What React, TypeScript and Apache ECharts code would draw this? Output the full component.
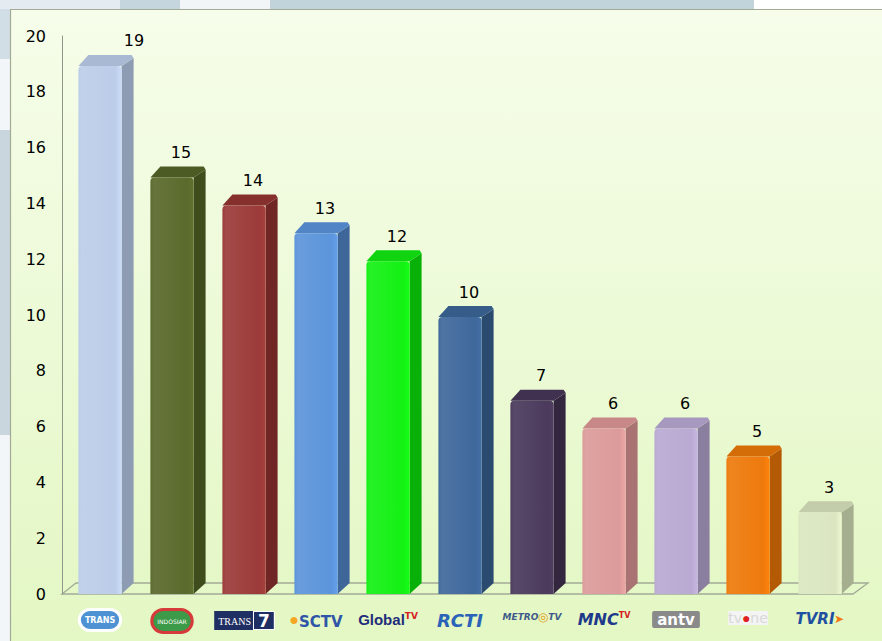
import React, { useEffect, useRef } from "react";
import * as echarts from "echarts";

const categories = ["Trans TV", "Indosiar", "Trans 7", "SCTV", "Global TV", "RCTI", "Metro TV", "MNCTV", "antv", "tvOne", "TVRI"];
const values = [19, 15, 14, 13, 12, 10, 7, 6, 6, 5, 3];
const frontColors = ["#bccde9", "#5a6a2c", "#9c3b39", "#5c95db", "#14f014", "#3f689b", "#4b3a5c", "#dc9b9a", "#b9aad3", "#ee7a0c", "#dbe6c1"];
const sideColors = ["#8e9cb3", "#3f4d1c", "#6f2624", "#3f6699", "#08b008", "#2b4a70", "#33263f", "#a87372", "#8b7fa0", "#b45a05", "#a6ae90"];
const topColors = ["#a9b9d3", "#4c5b24", "#86302e", "#5185c6", "#10d410", "#365c8a", "#403150", "#c78887", "#a698bf", "#d46c08", "#c4cdab"];
const yTicks = [0, 2, 4, 6, 8, 10, 12, 14, 16, 18, 20];

const logoLabels: Record<string, string> = {
  "Trans TV": "{transtv|TRANS}",
  "Indosiar": "{indosiar|INDOSIAR}",
  "Trans 7": "{t7a|TRANS}{t7b|7}",
  "SCTV": "{sun|●}{sctv|SCTV}",
  "Global TV": "{glob|Global}{globtv|TV}",
  "RCTI": "{rcti|RCTI}",
  "Metro TV": "{metro|METRO}{metroo|◎}{metro|TV}",
  "MNCTV": "{mnc|MNC}{mnctv|TV}",
  "antv": "{antv|antv}",
  "tvOne": "{tv1|tv}{tv1o|●}{tv1|ne}",
  "TVRI": "{tvri|TVRI}{tvria|➤}",
};

export default function App() {
  const ref = useRef<HTMLDivElement>(null);
  useEffect(() => {
    if (!ref.current) return;
    const chart = echarts.init(ref.current, null, { renderer: "svg" });
    const dx = 12;
    const dy = 11;
    const option: any = {
      animation: false,
      backgroundColor: "#ffffff",
      graphic: [
        { type: "rect", shape: { x: 0, y: 0, width: 882, height: 9 }, style: { fill: "#e4ecf1" }, z: -10 },
        { type: "rect", shape: { x: 120, y: 0, width: 60, height: 9 }, style: { fill: "#c6d6de" }, z: -10 },
        { type: "rect", shape: { x: 180, y: 0, width: 90, height: 9 }, style: { fill: "#f1f5f7" }, z: -10 },
        { type: "rect", shape: { x: 270, y: 0, width: 484, height: 9 }, style: { fill: "#c2d4db" }, z: -10 },
        { type: "rect", shape: { x: 754, y: 0, width: 128, height: 9 }, style: { fill: "#ffffff" }, z: -10 },
        { type: "rect", shape: { x: 0, y: 9, width: 10, height: 632 }, style: { fill: "#f3f6f8" }, z: -10 },
        { type: "rect", shape: { x: 0, y: 9, width: 10, height: 50 }, style: { fill: "#d2dee6" }, z: -10 },
        { type: "rect", shape: { x: 0, y: 130, width: 10, height: 305 }, style: { fill: "#c9d6de" }, z: -10 },
        {
          type: "rect",
          shape: { x: 10.5, y: 9.5, width: 880, height: 640 },
          style: {
            fill: new echarts.graphic.LinearGradient(0, 0, 0, 1, [
              { offset: 0, color: "#f6fdea" },
              { offset: 1, color: "#e3f7c3" },
            ]),
            stroke: "#a3ab96",
            lineWidth: 1.2,
          },
          z: -9,
        },
        {
          type: "polygon",
          shape: { points: [[62, 594], [853, 594], [868, 583], [76, 583]] },
          style: { fill: "rgba(0,0,0,0)", stroke: "#a2aa98", lineWidth: 1.3 },
          z: -8,
        },
      ],
      grid: { left: 64, right: 26, top: 36, bottom: 47, containLabel: false },
      xAxis: {
        type: "category",
        data: categories,
        axisLine: { show: false },
        axisTick: { show: false },
        splitLine: { show: false },
        axisLabel: {
          margin: 17,
          interval: 0,
          formatter: (v: string) => logoLabels[v] || v,
          rich: {
            transtv: { color: "#ffffff", backgroundColor: "#4e92d3", fontSize: 8, fontWeight: "bold", fontFamily: "DejaVu Sans", padding: [5, 4], borderRadius: 9, borderColor: "#ffffff", borderWidth: 3 },
            indosiar: { color: "#ffffff", backgroundColor: "#3c9a48", fontSize: 6, fontFamily: "DejaVu Sans", padding: [7, 4], borderRadius: 12, borderColor: "#d63a3a", borderWidth: 3 },
            t7a: { color: "#ffffff", backgroundColor: "#1f2f63", fontSize: 10, fontFamily: "Liberation Serif", padding: [5, 3, 4, 4] },
            t7b: { color: "#ffffff", backgroundColor: "#1f2f63", fontSize: 17, fontWeight: "bold", fontFamily: "DejaVu Sans", padding: [0, 4, 0, 4], borderColor: "#ffffff", borderWidth: 1 },
            sun: { color: "#f5a623", fontSize: 16, padding: [0, 0, 6, 0] },
            sctv: { color: "#2f55a8", fontSize: 15, fontWeight: "bold", fontFamily: "DejaVu Sans" },
            glob: { color: "#1f2d7a", fontSize: 15, fontWeight: "bold", fontFamily: "Liberation Sans Narrow, Liberation Sans" },
            globtv: { color: "#d62020", fontSize: 9, fontWeight: "bold", fontFamily: "DejaVu Sans", padding: [0, 0, 8, 0] },
            rcti: { color: "#2b63b8", fontSize: 18, fontWeight: "bold", fontStyle: "italic", fontFamily: "DejaVu Sans" },
            metro: { color: "#3f5a8a", fontSize: 9, fontStyle: "italic", fontWeight: "bold", fontFamily: "DejaVu Sans" },
            metroo: { color: "#e0a020", fontSize: 12 },
            mnc: { color: "#1f3a8a", fontSize: 16, fontWeight: "bold", fontStyle: "italic", fontFamily: "DejaVu Sans" },
            mnctv: { color: "#d62020", fontSize: 8, fontWeight: "bold", fontFamily: "DejaVu Sans", padding: [0, 0, 8, 0] },
            antv: { color: "#ffffff", backgroundColor: "#8a8a8a", fontSize: 15, fontWeight: "bold", fontFamily: "DejaVu Sans", padding: [1, 5], borderRadius: 2 },
            tv1: { color: "#d8d8d8", fontSize: 14, fontFamily: "DejaVu Sans", backgroundColor: "#f4f4f4" },
            tv1o: { color: "#e02020", fontSize: 14, backgroundColor: "#f4f4f4" },
            tvri: { color: "#1f4fa0", fontSize: 15, fontWeight: "bold", fontStyle: "italic", fontFamily: "DejaVu Sans" },
            tvria: { color: "#f07a10", fontSize: 12 },
          },
        },
      },
      yAxis: {
        type: "value",
        min: 0,
        max: 20,
        interval: 2,
        offset: 2,
        axisLine: { show: true, lineStyle: { color: "#8f978a", width: 1 } },
        axisTick: { show: false },
        splitLine: { show: false },
        axisLabel: {
          margin: 16,
          color: "#000000",
          fontSize: 16,
          fontFamily: "DejaVu Sans",
          formatter: (v: number) => (yTicks.indexOf(v) >= 0 ? String(v) : ""),
        },
      },
      series: [
        {
          type: "custom",
          data: values.map((v, i) => [i, v]),
          encode: { x: 0, y: 1 },
          renderItem: (params: any, api: any) => {
            const idx = api.value(0);
            const v = api.value(1);
            const base = api.coord([idx, 0]);
            const top = api.coord([idx, v]);
            const bw = api.size([1, 0])[0] * 0.6;
            const x0 = base[0] - bw / 2;
            const x1 = x0 + bw;
            const yb = base[1];
            const yt = top[1] + 2;
            const fc = frontColors[idx];
            const sc = sideColors[idx];
            const tc = topColors[idx];
            const labelDx = idx === 0 ? 34 : 9;
            return {
              type: "group",
              children: [
                {
                  type: "polygon",
                  shape: { points: [[x1, yt], [x1 + dx, yt - dy + 3], [x1 + dx, yb - dy], [x1, yb]] },
                  style: { fill: sc },
                },
                {
                  type: "polygon",
                  shape: { points: [[x0, yt], [x0 + dx - 2, yt - dy], [x1 + dx - 2, yt - dy], [x1 + dx, yt - dy + 3], [x1, yt]] },
                  style: { fill: tc },
                },
                {
                  type: "rect",
                  shape: { x: x0, y: yt, width: bw, height: yb - yt, r: [4, 4, 0, 0] },
                  style: {
                    fill: new echarts.graphic.LinearGradient(0, 0, 1, 0, [
                      { offset: 0, color: fc },
                      { offset: 0.08, color: echarts.color.lift(fc, 0.08) },
                      { offset: 0.85, color: fc },
                      { offset: 1, color: echarts.color.lift(fc, -0.08) },
                    ]),
                  },
                },
                {
                  type: "text",
                  style: {
                    text: String(v),
                    x: base[0] + labelDx,
                    y: yt - 25,
                    align: "center",
                    verticalAlign: "middle",
                    fill: "#000000",
                    fontSize: 16,
                    fontFamily: "DejaVu Sans",
                  },
                },
              ],
            };
          },
        },
      ],
    };
    chart.setOption(option);
    return () => chart.dispose();
  }, []);
  return <div ref={ref} style={{ position: "fixed", left: 0, top: 0, width: 882, height: 641 }} />;
}
